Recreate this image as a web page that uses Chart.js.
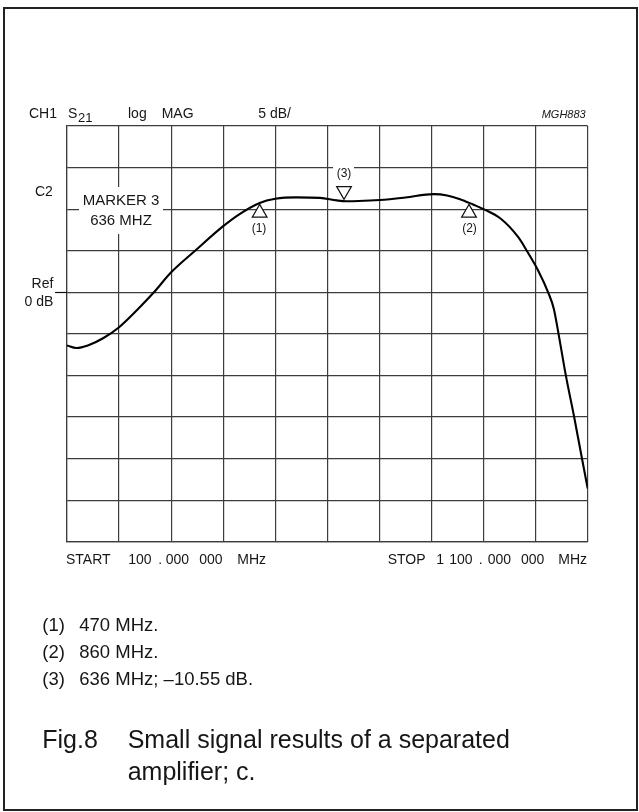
<!DOCTYPE html>
<html>
<head>
<meta charset="utf-8">
<script src="https://cdn.jsdelivr.net/npm/chart.js@4"></script>
<style>
html,body{margin:0;padding:0;background:#fff;overflow:hidden;}
#wrap{position:relative;width:639px;height:812px;overflow:hidden;font-family:"Liberation Sans",Arial,Helvetica,sans-serif;color:#161616;}
#frame{position:absolute;left:3px;top:7px;width:635px;height:804px;border:2px solid #222;box-sizing:border-box;}
#cv{position:absolute;left:0;top:0;width:639px;height:812px;}
.t{position:absolute;white-space:nowrap;line-height:1;}
.c14{font-size:14px;}
.box{position:absolute;background:#fff;}
</style>
</head>
<body>
<div id="wrap">
  <div id="frame"></div>
  <canvas id="cv" width="639" height="812"></canvas>

  <!-- header -->
  <div class="t c14" style="left:29px;top:105.9px">CH1</div>
  <div class="t c14" style="left:68px;top:105.9px">S</div>
  <div class="t" style="left:78px;top:110.5px;font-size:13px">21</div>
  <div class="t c14" style="left:128px;top:105.9px">log</div>
  <div class="t c14" style="left:161.7px;top:105.9px">MAG</div>
  <div class="t c14" style="left:258.3px;top:105.9px">5 dB/</div>
  <div class="t" style="right:53.3px;top:109px;font-size:11px;font-style:italic">MGH883</div>

  <!-- left labels -->
  <div class="t c14" style="left:35px;top:183.5px">C2</div>
  <div class="t c14" style="right:585.7px;top:275.9px;text-align:right">Ref</div>
  <div class="t c14" style="right:585.7px;top:294.2px;text-align:right">0 dB</div>

  <!-- marker 3 readout box -->
  <div class="box" style="left:79px;top:187px;width:84px;height:47px"></div>
  <div class="t" style="left:79px;width:84px;text-align:center;top:192.3px;font-size:15px">MARKER 3</div>
  <div class="t" style="left:79px;width:84px;text-align:center;top:211.6px;font-size:15px">636 MHZ</div>

  <!-- marker labels -->
  <div class="box" style="left:333px;top:166px;width:21px;height:15px"></div>
  <div class="t" style="left:334px;width:20px;text-align:center;top:166.6px;font-size:12px">(3)</div>
  <div class="t" style="left:249px;width:20px;text-align:center;top:221.6px;font-size:12px">(1)</div>
  <div class="t" style="left:459.5px;width:20px;text-align:center;top:222.3px;font-size:12px">(2)</div>

  <!-- bottom axis texts -->
  <div class="t c14" style="left:66px;top:552.1px">START</div>
  <div class="t c14" style="left:128.3px;top:552.1px">100</div>
  <div class="t c14" style="left:158.3px;top:552.1px">.</div>
  <div class="t c14" style="left:165.7px;top:552.1px">000</div>
  <div class="t c14" style="left:199.3px;top:552.1px">000</div>
  <div class="t c14" style="left:237.3px;top:552.1px">MHz</div>

  <div class="t c14" style="left:387.7px;top:552.1px">STOP</div>
  <div class="t c14" style="left:436.2px;top:552.1px">1</div>
  <div class="t c14" style="left:449.3px;top:552.1px">100</div>
  <div class="t c14" style="left:478.8px;top:552.1px">.</div>
  <div class="t c14" style="left:487.7px;top:552.1px">000</div>
  <div class="t c14" style="left:521px;top:552.1px">000</div>
  <div class="t c14" style="left:558.3px;top:552.1px">MHz</div>

  <!-- notes -->
  <div class="t" style="left:42.3px;top:616px;font-size:18.5px">(1)</div>
  <div class="t" style="left:79.3px;top:616px;font-size:18.5px">470 MHz.</div>
  <div class="t" style="left:42.3px;top:642.6px;font-size:18.5px">(2)</div>
  <div class="t" style="left:79.3px;top:642.6px;font-size:18.5px">860 MHz.</div>
  <div class="t" style="left:42.3px;top:670.3px;font-size:18.5px">(3)</div>
  <div class="t" style="left:79.3px;top:670.3px;font-size:18.5px">636 MHz; &#8211;10.55 dB.</div>

  <!-- caption -->
  <div class="t" style="left:42.3px;top:727.1px;font-size:25px">Fig.8</div>
  <div class="t" style="left:127.7px;top:727.1px;font-size:25px">Small signal results of a separated</div>
  <div class="t" style="left:127.7px;top:758.8px;font-size:25px">amplifier; c.</div>
</div>

<script>
// ---- data ----
// sweep frequency (MHz) and S21 level relative to the 0 dB reference line (dB)
const freqMHz = [100,118,140,170,200,235,267,300,346,400,430,470,500,540,586,618,636,660,701,750,804,830,855,880,900,932,967,983,1005,1024,1035,1044,1058,1074,1089,1100];
const s21dB   = [-6.4,-6.7,-6.4,-5.5,-4.2,-2.1,0,2.4,5.0,7.95,9.35,10.75,11.25,11.42,11.35,11.05,10.95,10.97,11.1,11.4,11.8,11.65,11.2,10.55,10.0,8.9,6.6,5.0,2.6,0,-2.0,-5.0,-10.0,-15.0,-20.0,-23.6];

// marker triangles: position on the sweep (MHz) and level of the symbol (dB)
const upMarkerMHz   = [470, 872];
const upMarkerDB    = [9.55, 9.55];
const downMarkerMHz = [632];
const downMarkerDB  = [12.2];

// display settings of the analyser
const startMHz = 100, stopMHz = 1100, divMHz = 100;
const topDB = 20, bottomDB = -30, dBPerDiv = 5, refDB = 0;

const curve = freqMHz.map((f, i) => ({x: f, y: s21dB[i]}));
const upPts = upMarkerMHz.map((f, i) => ({x: f, y: upMarkerDB[i]}));
const downPts = downMarkerMHz.map((f, i) => ({x: f, y: downMarkerDB[i]}));

const refTick = {
  id: 'refTick',
  afterDatasetsDraw(chart) {
    const {ctx, chartArea, scales} = chart;
    const y = Math.round(scales.y.getPixelForValue(refDB)) + 0.5;
    ctx.save();
    ctx.strokeStyle = '#111';
    ctx.lineWidth = 1.2;
    ctx.beginPath();
    ctx.moveTo(chartArea.left - 12, y);
    ctx.lineTo(chartArea.left, y);
    ctx.stroke();
    ctx.restore();
  }
};

const gridColor = '#3c3c3c';

new Chart(document.getElementById('cv'), {
  type: 'line',
  data: {
    datasets: [
      {
        data: curve,
        borderColor: '#000',
        borderWidth: 2.1,
        pointRadius: 0,
        fill: false,
        cubicInterpolationMode: 'monotone',
        order: 2
      },
      {
        data: upPts,
        showLine: false,
        pointStyle: 'triangle',
        pointRadius: 8.5,
        pointBorderWidth: 1.2,
        pointBackgroundColor: '#fff',
        pointBorderColor: '#111',
        order: 1
      },
      {
        data: downPts,
        showLine: false,
        pointStyle: 'triangle',
        pointRotation: 180,
        pointRadius: 8.5,
        pointBorderWidth: 1.2,
        pointBackgroundColor: '#fff',
        pointBorderColor: '#111',
        order: 1
      }
    ]
  },
  options: {
    responsive: false,
    animation: false,
    events: [],
    layout: {
      autoPadding: false,
      padding: {left: 67, top: 126, right: 51.3, bottom: 270.3}
    },
    plugins: {legend: {display: false}, tooltip: {enabled: false}, title: {display: false}},
    scales: {
      x: {
        type: 'linear',
        min: startMHz, max: stopMHz,
        ticks: {display: false, stepSize: divMHz},
        grid: {color: gridColor, lineWidth: 1.2, drawTicks: false},
        border: {display: true, color: gridColor, width: 1.2}
      },
      y: {
        type: 'linear',
        min: bottomDB, max: topDB,
        ticks: {display: false, stepSize: dBPerDiv},
        grid: {color: gridColor, lineWidth: 1.2, drawTicks: false},
        border: {display: true, color: gridColor, width: 1.2}
      }
    }
  },
  plugins: [refTick]
});
</script>
</body>
</html>
